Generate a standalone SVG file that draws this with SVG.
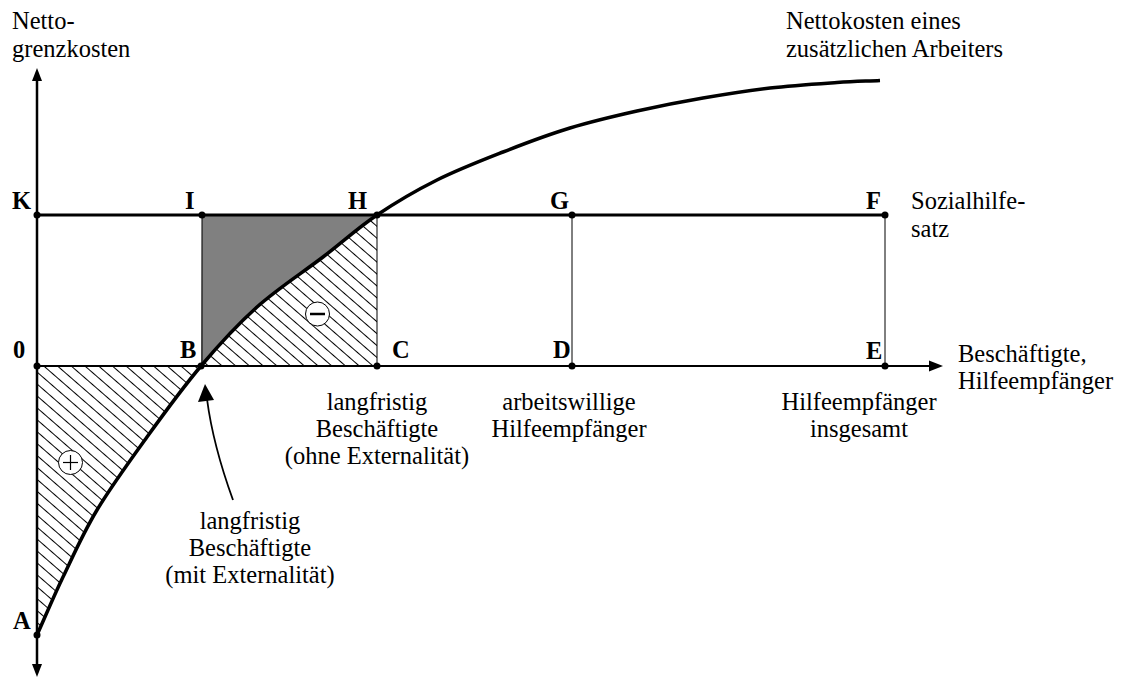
<svg xmlns="http://www.w3.org/2000/svg" width="1125" height="677" viewBox="0 0 1125 677">
<style>
text{font-family:"Liberation Serif","Times New Roman",serif;font-size:24.5px;fill:#000}
.b{font-weight:bold}
.m{text-anchor:middle}
.thin{stroke:#000;stroke-width:1;fill:none}
.dot{fill:#000}
.sign{fill:#fff;stroke:#000;stroke-width:1}
</style>
<defs>
<pattern id="hatch" patternUnits="userSpaceOnUse" width="10" height="9" patternTransform="rotate(41)">
<line x1="0" y1="4.5" x2="10" y2="4.5" stroke="#000" stroke-width="1"/>
</pattern>
</defs>
<g id="areas">
<path id="area-plus" d="M37,366 L201,366 C182.7,387.7 164.3,413 147,437 C129.7,461 111,486.7 97,510 C83,533.3 73,556.2 63,577 C53,597.8 45.7,615.7 37,635 Z" fill="url(#hatch)"/>
<path id="area-minus" d="M201,366 C219.3,344.3 236.7,325.2 257,307 C277.3,288.8 303,272.3 323,257 C343,241.7 358,227.8 377,215 L377,366 Z" fill="url(#hatch)"/>
<path id="area-gray" d="M202,215 L377,215 C358,227.8 343,241.7 323,257 C303,272.3 277.3,288.8 257,307 C236.7,325.2 219.3,344.3 201,366 Z" fill="#808080"/>
</g>
<g id="connectors">
<line x1="37" y1="80" x2="37" y2="665" stroke="#000" stroke-width="2.5"/>
<polygon points="37,68 32,81 42,81"/>
<polygon points="37,677 32,664 42,664"/>
<line x1="37" y1="366" x2="930" y2="366" stroke="#000" stroke-width="2"/>
<polygon points="943,366 929,360.5 929,371.5"/>
<line x1="37" y1="215" x2="885" y2="215" stroke="#000" stroke-width="3"/>
<line class="thin" x1="202" y1="215" x2="202" y2="366"/>
<line class="thin" x1="377" y1="215" x2="377" y2="366"/>
<line class="thin" x1="572" y1="215" x2="572" y2="366"/>
<line class="thin" x1="885" y1="215" x2="885" y2="366"/>
<path id="curve" d="M37,635 C45.7,615.7 53,597.8 63,577 C73,556.2 83,533.3 97,510 C111,486.7 129.7,461 147,437 C164.3,413 182.7,387.7 201,366 C219.3,344.3 236.7,325.2 257,307 C277.3,288.8 303,272.3 323,257 C343,241.7 358,227.8 377,215 C396,202.2 416,190.5 437,180 C458,169.5 480.8,160.7 503,152 C525.2,143.3 547.7,134.8 570,128 C592.3,121.2 614.8,116 637,111 C659.2,106 680.8,101.8 703,98 C725.2,94.2 747.7,90.6 770,88 C792.3,85.4 818.7,83.75 837,82.5 C855.3,81.25 865.7,81.2 880,80.5" fill="none" stroke="#000" stroke-width="3.5"/>
<path d="M233,500 Q213,445 207,399" fill="none" stroke="#000" stroke-width="1.8"/>
<polygon points="205,384 198,402 214,400"/>
</g>
<g id="points">
<circle class="dot" cx="37" cy="215" r="3.5"/>
<circle class="dot" cx="202" cy="215" r="3.5"/>
<circle class="dot" cx="377" cy="215" r="3.5"/>
<circle class="dot" cx="572" cy="215" r="3.5"/>
<circle class="dot" cx="885" cy="215" r="3.5"/>
<circle class="dot" cx="37" cy="366" r="3.5"/>
<circle class="dot" cx="201" cy="366" r="3.5"/>
<circle class="dot" cx="377" cy="366" r="3.5"/>
<circle class="dot" cx="572" cy="366" r="3.5"/>
<circle class="dot" cx="885" cy="366" r="3.5"/>
<circle class="dot" cx="37" cy="635" r="3.5"/>
</g>
<g id="signs">
<g id="plus"><circle class="sign" cx="70.5" cy="462.5" r="12"/><line x1="63" y1="462.5" x2="78" y2="462.5" stroke="#000" stroke-width="1.2"/><line x1="70.5" y1="455" x2="70.5" y2="470" stroke="#000" stroke-width="1.2"/></g>
<g id="minus"><circle class="sign" cx="317.5" cy="314" r="12"/><line x1="310" y1="314" x2="325" y2="314" stroke="#000" stroke-width="2.5"/></g>
</g>
<g id="point-labels">
<text class="b" x="12" y="209">K</text>
<text class="b" x="185" y="209">I</text>
<text class="b" x="348" y="209">H</text>
<text class="b" x="550" y="209">G</text>
<text class="b" x="866" y="209">F</text>
<text class="b" x="13" y="358">0</text>
<text class="b" x="180" y="358">B</text>
<text class="b" x="392" y="358">C</text>
<text class="b" x="553" y="358">D</text>
<text class="b" x="866" y="359">E</text>
<text class="b" x="13" y="629">A</text>
</g>
<g id="labels">
<text x="12" y="29">Netto-</text>
<text x="12" y="57">grenzkosten</text>
<text x="786" y="29">Nettokosten eines</text>
<text x="786" y="57">zusätzlichen Arbeiters</text>
<text x="911" y="209">Sozialhilfe-</text>
<text x="911" y="237">satz</text>
<text x="958" y="362">Beschäftigte,</text>
<text x="958" y="389">Hilfeempfänger</text>
<text class="m" x="859" y="410">Hilfeempfänger</text>
<text class="m" x="859" y="437">insgesamt</text>
<text class="m" x="377" y="410">langfristig</text>
<text class="m" x="377" y="437">Beschäftigte</text>
<text class="m" x="377" y="464">(ohne Externalität)</text>
<text class="m" x="569" y="410">arbeitswillige</text>
<text class="m" x="569" y="437">Hilfeempfänger</text>
<text class="m" x="250" y="529">langfristig</text>
<text class="m" x="250" y="556">Beschäftigte</text>
<text class="m" x="250" y="583">(mit Externalität)</text>
</g>
</svg>
